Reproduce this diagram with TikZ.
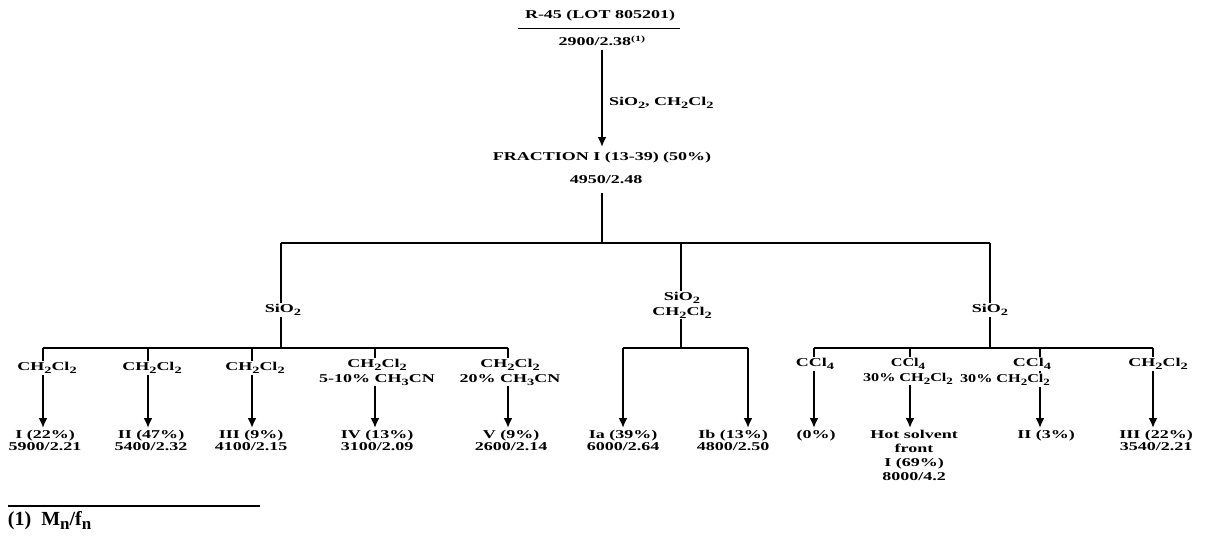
\documentclass[tikz,border=0pt]{standalone}
\usepackage{fontspec}
\setmainfont{Liberation Serif}[FakeStretch=1.5]
\newfontfamily\midf{Liberation Serif}[FakeStretch=1.35]
\newfontfamily\plainf{Liberation Serif}
\usetikzlibrary{arrows.meta}
\newcommand{\lo}[1]{\raisebox{-0.55ex}{\scalebox{0.8}{#1}}}
\begin{document}
\begin{tikzpicture}[x=1pt,y=-1pt,line width=2pt,
  arr/.style={-{Latex[length=10pt,width=9pt]}},
  bar/.style={line width=1.5pt},
  txt/.style={font=\fontsize{12}{12}\selectfont\bfseries,inner sep=1pt,align=center},
  two/.style={txt,font=\fontsize{12}{15}\selectfont\bfseries},
  lbl/.style={txt,fill=white},
  lbltwo/.style={two,fill=white},
  res/.style={txt,anchor=north}]
\useasboundingbox (0,0) rectangle (1210,539);
% coordinates
\coordinate (a0) at (602,50);
\coordinate (a1) at (602,147);
\coordinate (b0) at (602,193);
\coordinate (J) at (602,243);
\coordinate (JL) at (281,243);
\coordinate (JM) at (681,243);
\coordinate (JR) at (990,243);
\coordinate (L) at (281,348);
\coordinate (M) at (681,348);
\coordinate (R) at (990,348);
\foreach \n/\x in {l1/43,l2/148,l3/252,l4/375,l5/508,m1/623,m2/748,r1/814,r2/910,r3/1040,r4/1153}{
  \coordinate (\n top) at (\x,348);
  \coordinate (\n tip) at (\x,428);
}
% lines
\draw[arr] (a0) -- (a1);
\draw (b0) -- (J);
\draw[bar] (JL) -- (JR);
\draw (JL) -- (L);
\draw (JM) -- (M);
\draw (JR) -- (R);
\draw[bar] (l1top) -- (l5top);
\draw[bar] (m1top) -- (m2top);
\draw[bar] (r1top) -- (r4top);
\foreach \n in {l1,l2,l3,l4,l5,m1,m2,r1,r2,r3,r4}{
  \draw[arr] (\n top) -- (\n tip);
}
% top
\node[txt] (t1) at (600,16) {R-45 (LOT 805201)};
\draw[line width=0.8pt] (518,28) -- (680,28);
\node[txt] (t2) at (602,41) {2900/2.38\textsuperscript{(1)}};
\node[txt,anchor=west] (s1) at (607,103) {SiO\lo{2}, CH\lo{2}Cl\lo{2}};
\node[txt] (f1) at (602,158) {FRACTION I (13-39) (50\%)};
\node[txt] (f2) at (606,180) {4950/2.48};
% branch labels
\node[lbl] (sL) at (283,310) {SiO\lo{2}};
\node[lbltwo] (sM) at (682,305) {SiO\lo{2}\\CH\lo{2}Cl\lo{2}};
\node[lbl] (sR) at (990,310) {SiO\lo{2}};
% solvents
\node[lbl] (e1) at (47,368) {CH\lo{2}Cl\lo{2}};
\node[lbl] (e2) at (152,368) {CH\lo{2}Cl\lo{2}};
\node[lbl] (e3) at (255,368) {CH\lo{2}Cl\lo{2}};
\node[lbltwo] (e4) at (377,372) {CH\lo{2}Cl\lo{2}\\5-10\% CH\lo{3}CN};
\node[lbltwo] (e5) at (510,372) {CH\lo{2}Cl\lo{2}\\20\% CH\lo{3}CN};
\node[lbl] (e6) at (815,364) {CCl\lo{4}};
\node[lbltwo,font=\fontsize{12}{15}\selectfont\bfseries\midf] (e7) at (908,371) {CCl\lo{4}\\30\% CH\lo{2}Cl\lo{2}};
\node[lbl] (e8a) at (1032,364) {CCl\lo{4}};
\node[lbl,font=\fontsize{12}{12}\selectfont\bfseries\midf] (e8b) at (1005,380) {30\% CH\lo{2}Cl\lo{2}};
\node[lbl] (e9) at (1158,364) {CH\lo{2}Cl\lo{2}};
% results
\node[res] (r1) at (45,428) {I (22\%)\\5900/2.21};
\node[res] (r2) at (151,428) {II (47\%)\\5400/2.32};
\node[res] (r3) at (251,428) {III (9\%)\\4100/2.15};
\node[res] (r4) at (377,428) {IV (13\%)\\3100/2.09};
\node[res] (r5) at (511,428) {V (9\%)\\2600/2.14};
\node[res] (r6) at (623,428) {Ia (39\%)\\6000/2.64};
\node[res] (r7) at (733,428) {Ib (13\%)\\4800/2.50};
\node[res] (r8) at (816,428) {(0\%)};
\node[res,font=\fontsize{12}{14}\selectfont\bfseries] (r9) at (914,428) {Hot solvent\\front\\I (69\%)\\8000/4.2};
\node[res] (r10) at (1046,428) {II (3\%)};
\node[res] (r11) at (1156,428) {III (22\%)\\3540/2.21};
% footnote
\coordinate (fn0) at (8,506);
\coordinate (fn1) at (260,506);
\draw[line width=1.2pt] (fn0) -- (fn1);
\node[txt,font=\fontsize{20}{22}\selectfont\bfseries\plainf,anchor=west] (fn) at (6,521) {(1)\hspace{0.5em}M\raisebox{-0.35ex}{\scalebox{0.85}{n}}/f\raisebox{-0.35ex}{\scalebox{0.85}{n}}};
\end{tikzpicture}
\end{document}
